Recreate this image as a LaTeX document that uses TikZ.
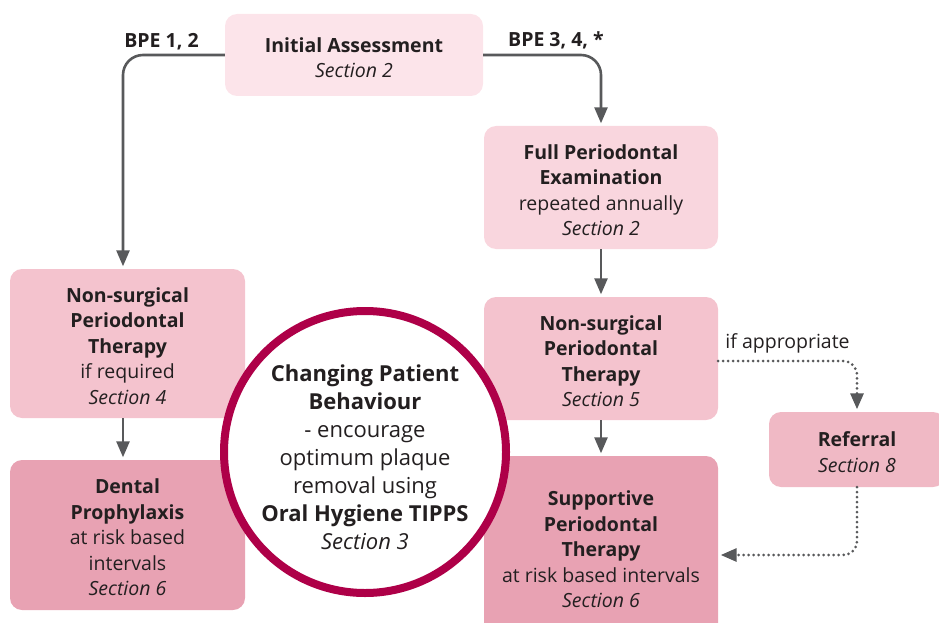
\documentclass[tikz,border=0pt]{standalone}
\usepackage{fontspec}
\setmainfont{Open Sans}
\usetikzlibrary{arrows.meta}
\definecolor{txt}{HTML}{231F20}
\definecolor{lc}{HTML}{58595B}
\definecolor{fA}{HTML}{FCE4EA}
\definecolor{fB}{HTML}{F9D6DE}
\definecolor{fC}{HTML}{F4C3CE}
\definecolor{fD}{HTML}{F0B9C5}
\definecolor{fE}{HTML}{E8A2B3}
\definecolor{ring}{HTML}{AE0048}
\newcommand\mytopstrut{\rule{0pt}{20pt}}
\tikzset{
  box/.style={rounded corners=12pt, align=center, text=txt, inner sep=0pt,
    font=\fontsize{19.5}{25.5}\selectfont},
  conn/.style={draw=lc, line width=2.6pt, rounded corners=20pt,
    -{Triangle[width=13pt,length=16pt]}, shorten >=2.5pt},
  dotconn/.style={draw=lc, line width=3pt, rounded corners=14pt,
    dash pattern=on 0pt off 5pt, line cap=round,
    -{Triangle[width=13pt,length=16pt]}, shorten >=2.5pt},
  lbl/.style={text=txt, inner sep=0pt, font=\fontsize{19.5}{25.5}\selectfont},
}
\begin{document}
\begin{tikzpicture}[x=1pt,y=-1pt]
\useasboundingbox (0,0) rectangle (939,623);
\node[box, fill=fA, minimum width=258pt, minimum height=82pt] (init) at (354,55)
  {\mytopstrut\textbf{Initial Assessment}\\\textit{Section 2}};
\node[box, fill=fB, minimum width=234pt, minimum height=123pt] (fpe) at (601,187.5)
  {\mytopstrut\textbf{Full Periodontal}\\\textbf{Examination}\\repeated annually\\\textit{Section 2}};
\node[box, fill=fC, minimum width=235pt, minimum height=149pt] (lnspt) at (127.5,343.5)
  {\mytopstrut\textbf{Non-surgical}\\\textbf{Periodontal}\\\textbf{Therapy}\\if required\\\textit{Section 4}};
\node[box, fill=fC, minimum width=234pt, minimum height=123pt] (rnspt) at (601,358.5)
  {\mytopstrut\textbf{Non-surgical}\\\textbf{Periodontal}\\\textbf{Therapy}\\\textit{Section 5}};
\node[box, fill=fD, minimum width=176pt, minimum height=75pt] (ref) at (857,449.5)
  {\mytopstrut\textbf{Referral}\\\textit{Section 8}};
\node[box, fill=fE, minimum width=235pt, minimum height=150pt] (dp) at (127.5,535)
  {\mytopstrut\textbf{Dental}\\\textbf{Prophylaxis}\\at risk based\\intervals\\\textit{Section 6}};
\node[box, fill=fE, minimum width=234pt, minimum height=182pt] (spt) at (601,547)
  {\mytopstrut\textbf{Supportive}\\\textbf{Periodontal}\\\textbf{Therapy}\\at risk based intervals\\\textit{Section 6}};

\node[lbl, font=\bfseries\fontsize{19.5}{25.5}\selectfont] (bpe12) at (161.5,42) {BPE 1, 2};
\node[lbl, font=\bfseries\fontsize{19.5}{25.5}\selectfont] (bpe34) at (556,40.5) {BPE 3, 4, *};
\node[lbl] (ifapp) at (787.5,343) {if appropriate};

\coordinate (lx) at (123,0);
\coordinate (rx) at (601,0);
\draw[conn] (init.west) -| (lnspt.north -| lx);
\draw[conn] (init.east) -| (fpe.north -| rx);
\draw[conn, rounded corners=0pt] (fpe.south) -- (rnspt.north);
\draw[conn, rounded corners=0pt] (rnspt.south) -- (spt.north);
\draw[conn, rounded corners=0pt] (lnspt.south -| lx) -- (dp.north -| lx);
\coordinate (dx) at (857,0);
\draw[dotconn] ([yshift=-2.5pt]rnspt.east) -| (ref.north -| dx);
\draw[dotconn] (ref.south -| dx) |- ([yshift=-8pt]spt.east);

\node[circle, draw=ring, line width=8pt, fill=white, minimum size=282pt, inner sep=0pt] (cpb) at (365,452) {};
\node[align=center, text=txt, inner sep=0pt, font=\fontsize{22}{28}\selectfont] (cpbtext) at (365,457)
  {\textbf{Changing Patient}\\\textbf{Behaviour}\\- encourage\\optimum plaque\\removal using\\\textbf{Oral Hygiene TIPPS}\\\textit{Section 3}};
\end{tikzpicture}
\end{document}
